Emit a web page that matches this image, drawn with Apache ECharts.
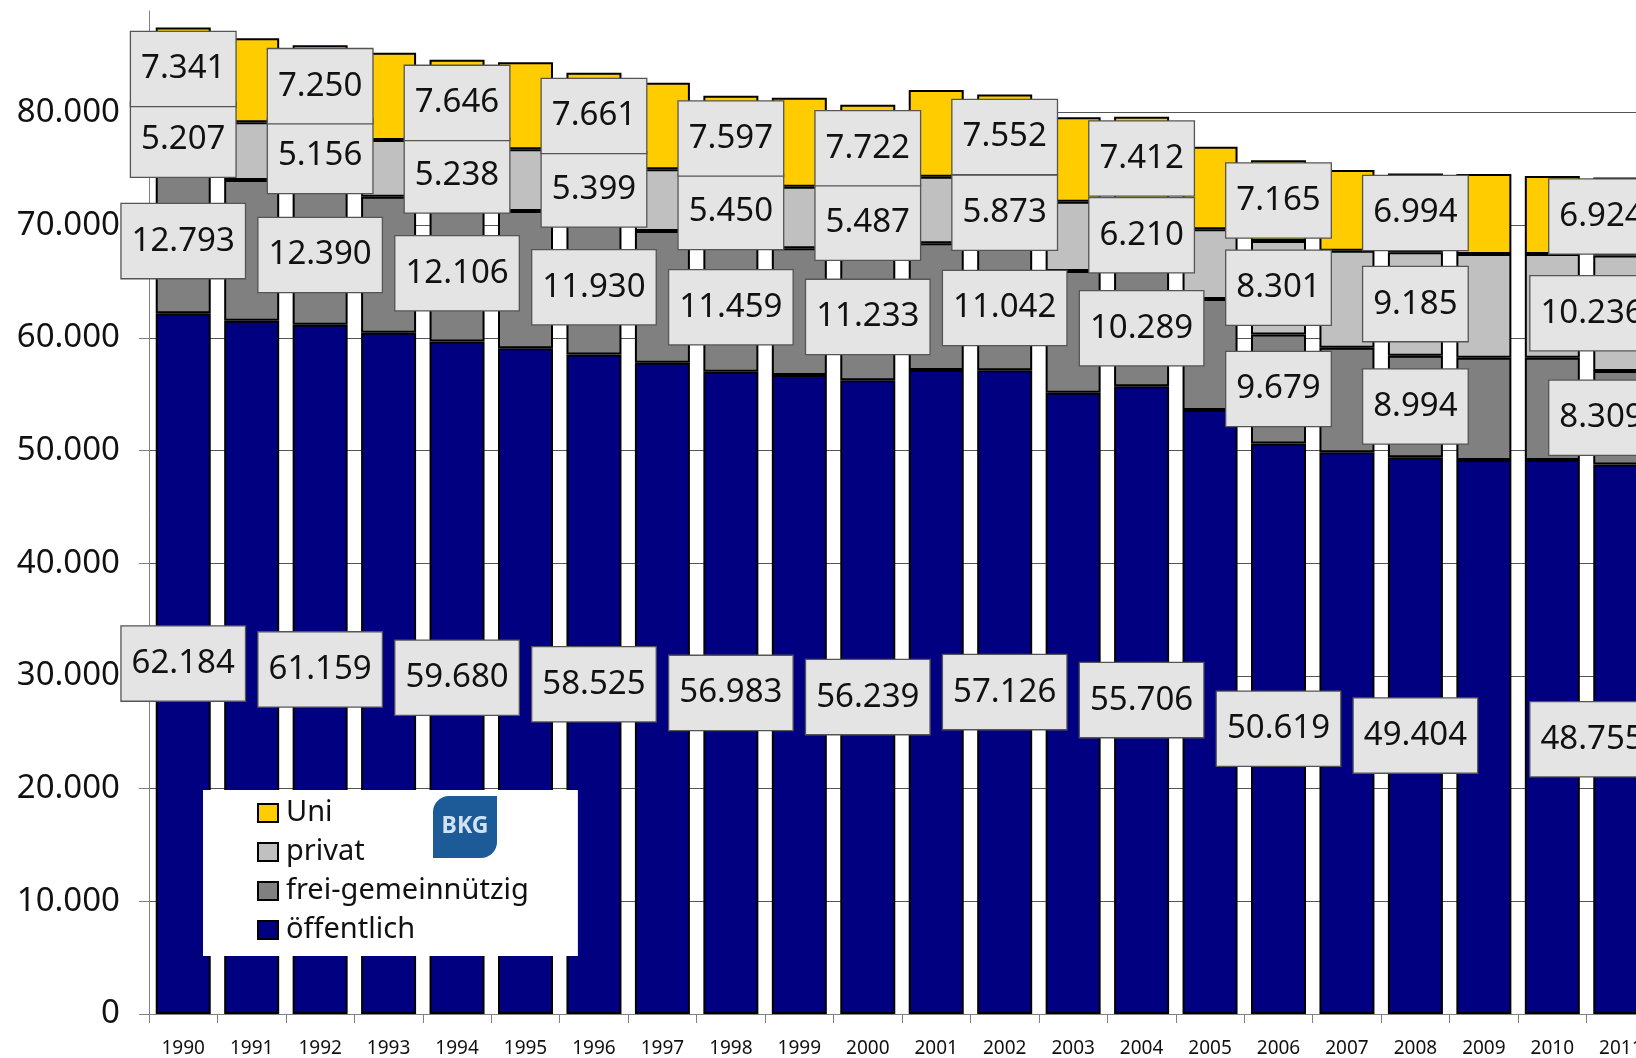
<!DOCTYPE html>
<html>
<head>
<meta charset="utf-8">
<script src="https://cdn.jsdelivr.net/npm/echarts@6/dist/echarts.min.js"></script>
<style>
html,body{margin:0;padding:0;background:#fff;}
#c{width:1636px;height:1058px;}
</style>
</head>
<body>
<div id="c"></div>
<script>
// ---- data ----
const years = ['1990','1991','1992','1993','1994','1995','1996','1997','1998','1999','2000','2001','2002','2003','2004','2005','2006','2007','2008','2009','2010','2011'];
const oeffentlich = [62184, 61518, 61159, 60452, 59680, 59066, 58525, 57790, 56983, 56698, 56239, 57142, 57126, 55128, 55706, 53593, 50619, 49839, 49404, 49156, 49156, 48755];
const freiGemeinnuetzig = [12793, 12483, 12390, 12069, 12106, 12184, 11930, 11686, 11459, 11242, 11233, 11242, 11042, 10798, 10289, 9849, 9679, 9283, 8994, 9080, 9080, 8309];
const privat = [5207, 5119, 5156, 5029, 5238, 5475, 5399, 5474, 5450, 5468, 5487, 5910, 5873, 6151, 6210, 6184, 8301, 8606, 9185, 9199, 9199, 10236];
const uni = [7341, 7454, 7250, 7747, 7646, 7719, 7661, 7685, 7597, 7897, 7722, 7693, 7552, 7487, 7412, 7332, 7165, 7160, 6994, 7098, 6921, 6924];
const labeledYears = ['1990','1992','1994','1996','1998','2000','2002','2004','2006','2008','2011'];
const yTicks = [0, 10000, 20000, 30000, 40000, 50000, 60000, 70000, 80000];
const legendOrder = ['Uni', 'privat', 'frei-gemeinnützig', 'öffentlich'];

// ---- layout ----
const FONT = '"Noto Sans", "Open Sans", sans-serif';
const W = 1636;
const GRID_LEFT = 149;
const GRID_RIGHT = -19;
const PLOT_RIGHT = W - GRID_RIGHT;

const fmt = v => String(v).replace(/\B(?=(\d{3})+(?!\d))/g, '.');

function clampRight(params) {
  const r = params.labelRect;
  if (!r) return {};
  const over = r.x + r.width - PLOT_RIGHT;
  return over > 0 ? { dx: -over } : {};
}

function mk(name, values, color) {
  return {
    name: name,
    type: 'bar',
    stack: 'total',
    barWidth: 55,
    itemStyle: { color: color, borderColor: '#000', borderWidth: 2 },
    label: {
      show: false,
      position: 'inside',
      formatter: p => fmt(p.value),
      fontSize: 33,
      fontFamily: FONT,
      color: '#111',
      backgroundColor: '#e4e4e4',
      borderColor: '#555',
      borderWidth: 1.3,
      padding: [12, 10, 22, 10],
      lineHeight: 40
    },
    labelLayout: clampRight,
    emphasis: { disabled: true },
    data: values.map((v, i) => labeledYears.includes(years[i]) ? { value: v, label: { show: true } } : v)
  };
}

const chart = echarts.init(document.getElementById('c'), null, { renderer: 'canvas' });
chart.setOption({
  animation: false,
  backgroundColor: '#fff',
  grid: { left: GRID_LEFT, right: GRID_RIGHT, top: 11, bottom: 44, containLabel: false, outerBoundsMode: 'none' },
  xAxis: {
    type: 'category',
    data: years,
    axisLine: { show: true, lineStyle: { color: '#808080', width: 1 } },
    axisTick: { show: true, length: 9, interval: 0, lineStyle: { color: '#808080' } },
    axisLabel: { interval: 0, fontSize: 19, color: '#111', fontFamily: FONT, margin: 25 },
    splitLine: { show: false }
  },
  yAxis: {
    type: 'value',
    min: 0,
    max: 89000,
    interval: 10000,
    axisLine: { show: true, lineStyle: { color: '#808080', width: 1 } },
    axisTick: { show: true, length: 10, lineStyle: { color: '#808080' }, customValues: yTicks },
    axisLabel: { fontSize: 33, color: '#111', fontFamily: FONT, margin: 29, formatter: fmt, customValues: yTicks },
    splitLine: { show: true, lineStyle: { color: '#555', width: 1 } }
  },
  legend: {
    orient: 'vertical',
    left: 203,
    top: 790,
    data: legendOrder,
    backgroundColor: '#fff',
    padding: [8, 49, 11, 54],
    itemGap: 9,
    itemWidth: 20,
    itemHeight: 18,
    icon: 'rect',
    selectedMode: false,
    textStyle: { fontSize: 29, lineHeight: 30, color: '#111', fontFamily: FONT, padding: [0, 0, 0, 3] }
  },
  graphic: [
    { type: 'rect', left: 433, top: 796, z: 10, shape: { width: 64, height: 62, r: [16, 0, 16, 0] }, style: { fill: '#1d5b98' } },
    { type: 'text', x: 465, y: 826, z: 11, style: { text: 'BKG', fill: '#d3e2f1', font: 'bold 23px "Noto Sans"', align: 'center', verticalAlign: 'middle' } }
  ],
  series: [
    mk('öffentlich', oeffentlich, '#000080'),
    mk('frei-gemeinnützig', freiGemeinnuetzig, '#808080'),
    mk('privat', privat, '#c0c0c0'),
    mk('Uni', uni, '#ffcc00')
  ]
});
</script>
</body>
</html>
